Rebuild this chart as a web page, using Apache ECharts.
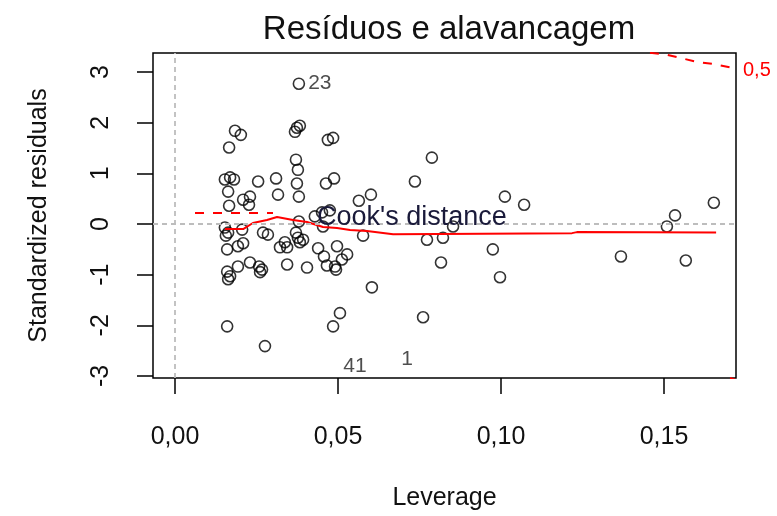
<!DOCTYPE html>
<html>
<head>
<meta charset="utf-8">
<script src="https://cdn.jsdelivr.net/npm/echarts@6/dist/echarts.min.js"></script>
<style>html,body{margin:0;padding:0;background:#fff}#c{width:777px;height:516px}</style>
</head>
<body>
<div id="c"></div>
<script>
// ---- data ----
const leverage = [0.0166,0.0184,0.0202,0.0153,0.0169,0.0181,0.0163,0.0166,0.0209,0.0230,
  0.0227,0.0153,0.0163,0.0156,0.0206,0.0160,0.0193,0.0209,0.0160,0.0169,
  0.0163,0.0193,0.0230,0.0160,0.0255,0.0310,0.0316,0.0270,0.0285,0.0258,
  0.0267,0.0261,0.0276,0.0322,0.0337,0.0344,0.0377,0.0383,0.0344,0.0405,
  0.0368,0.0383,0.0374,0.0371,0.0377,0.0374,0.0380,0.0380,0.0380,0.0393,
  0.0429,0.0439,0.0457,0.0466,0.0491,0.0497,0.0528,0.0512,0.0494,0.0454,
  0.0451,0.0475,0.0469,0.0485,0.0463,0.0488,0.0506,0.0485,0.0564,0.0601,
  0.0577,0.0604,0.0736,0.0788,0.0761,0.0773,0.0822,0.0853,0.0816,0.0975,
  0.0997,0.1012,0.1071,0.1368,0.1509,0.1534,0.1567,0.1653,0.0371];
const stdResid = [1.51,1.84,1.76,0.88,0.92,0.88,0.64,0.36,0.48,0.54,
  0.38,-0.07,-0.17,-0.23,-0.11,-0.50,-0.44,-0.38,-0.94,-1.03,
  -1.09,-0.84,-0.76,-2.02,0.84,0.90,0.58,-0.17,-0.21,-0.84,
  -0.90,-0.95,-2.41,-0.46,-0.36,-0.46,-0.27,-0.36,-0.80,-0.86,
  1.82,1.94,1.90,1.27,1.07,0.80,0.54,2.77,0.05,-0.31,
  0.15,-0.48,-0.64,-0.82,-0.84,-0.44,-0.60,-0.70,-0.90,-0.05,
  0.23,0.27,1.66,1.70,0.80,0.90,-1.76,-2.02,0.46,0.58,
  -0.23,-1.25,0.84,1.31,-1.84,-0.31,-0.27,-0.05,-0.76,-0.50,
  -1.05,0.54,0.38,-0.64,-0.05,0.17,-0.72,0.42,-0.17];
const pointIds = {47: '23'};
const smoothX = [0.0153,0.0209,0.0239,0.0282,0.0313,0.0362,0.0405,0.0454,0.0497,0.0537,0.0589,0.0669,0.1218,0.1233,0.1660];
const smoothY = [-0.10,-0.10,0.02,0.08,0.14,0.08,0.04,-0.06,-0.08,-0.12,-0.14,-0.20,-0.18,-0.16,-0.17];
const cookUpperX = [0.1457,0.1509,0.1549,0.1601,0.1650,0.1712,0.1721];
const cookUpperY = [3.38,3.34,3.28,3.20,3.16,3.08,3.06];
const cookLowerX = [0.1703,0.1721];
const cookLowerY = [-3.04,-3.08];
const extraLabels = [{x:0.0552,y:-2.81,t:'41'},{x:0.0712,y:-2.67,t:'1'}];
const xTickValues = [0,0.05,0.10,0.15];
const xTickLabels = ['0,00','0,05','0,10','0,15'];
const yTickValues = [-3,-2,-1,0,1,2,3];
const yTickLabels = ['-3','-2','-1','0','1','2','3'];
const cookLevelLabel = '0,5';

const FONT = '"Liberation Sans", Arial, sans-serif';
const chart = echarts.init(document.getElementById('c'), null, {renderer:'canvas'});

const pts = leverage.map((x,i)=>{
  const d = {value:[x, stdResid[i]]};
  if (pointIds[i]) d.label = {show:true, formatter:pointIds[i], position:'right', distance:3,
     fontSize:21, color:'#222', fontFamily:FONT};
  return d;
});

chart.setOption({
  animation:false,
  title:{text:'Resíduos e alavancagem', left:444, top:8, textAlign:'center',
    textStyle:{fontFamily:FONT, fontSize:33, fontWeight:'normal', color:'#111'}},
  grid:{left:153, right:41, top:53, bottom:137, show:true, borderColor:'#000', borderWidth:1.5, backgroundColor:'transparent'},
  xAxis:{type:'value', min:-0.00675, max:0.1721,
    name:'Leverage', nameLocation:'middle', nameGap:108,
    nameTextStyle:{fontFamily:FONT, fontSize:25, color:'#111'},
    axisLine:{show:false, onZero:false}, splitLine:{show:false},
    axisTick:{show:true, inside:false, length:16, customValues:xTickValues, lineStyle:{color:'#000', width:1.5}},
    axisLabel:{customValues:xTickValues, margin:47, fontFamily:FONT, fontSize:25, color:'#111',
      formatter:v=>xTickLabels[xTickValues.findIndex(t=>Math.abs(t-v)<1e-9)]}},
  yAxis:{type:'value', min:-3.04, max:3.376,
    name:'Standardized residuals', nameLocation:'middle', nameGap:101, nameRotate:90,
    nameTextStyle:{fontFamily:FONT, fontSize:25, color:'#111'},
    axisLine:{show:false, onZero:false}, splitLine:{show:false},
    axisTick:{show:true, inside:false, length:16, customValues:yTickValues, lineStyle:{color:'#000', width:1.5}},
    axisLabel:{customValues:yTickValues, rotate:90, margin:39, fontFamily:FONT, fontSize:25, color:'#111',
      formatter:v=>yTickLabels[yTickValues.indexOf(Math.round(v))]}},
  series:[
    {type:'scatter', data:pts, symbol:'circle', symbolSize:11, z:3,
      itemStyle:{color:'rgba(0,0,0,0)', borderColor:'#000', borderWidth:1.6},
      markLine:{silent:true, symbol:'none', label:{show:false},
        lineStyle:{color:'#bdbdbd', type:[5,4], width:1.8},
        data:[{yAxis:0},{xAxis:0}]}},
    {type:'line', data:smoothX.map((x,i)=>[x,smoothY[i]]), symbol:'none',
      lineStyle:{color:'#ff0000', width:2}, z:4},
    {type:'line', data:cookUpperX.map((x,i)=>[x,cookUpperY[i]]), symbol:'none', clip:true,
      lineStyle:{color:'#ff0000', width:2, type:[9,9]}, z:4},
    {type:'line', data:cookLowerX.map((x,i)=>[x,cookLowerY[i]]), symbol:'none', clip:true,
      lineStyle:{color:'#ff0000', width:2, type:[9,9]}, z:4},
    {type:'scatter', data:extraLabels.map(d=>({value:[d.x,d.y], label:{show:true, formatter:d.t}})),
      symbolSize:0, z:5,
      label:{position:'inside', fontFamily:FONT, fontSize:21, color:'#222'}}
  ],
  graphic:[
    {type:'line', shape:{x1:195,y1:213,x2:273,y2:213}, style:{stroke:'#ff0000', lineWidth:2, lineDash:[9,9]}, z:10},
    {type:'text', left:317, top:204, style:{text:"Cook's distance", font:'27px '+FONT, fill:'#1a1a3a'}, z:10},
    {type:'text', left:743, top:60, style:{text:cookLevelLabel, font:'20px '+FONT, fill:'#ff0000'}, z:10}
  ]
});
</script>
</body>
</html>
